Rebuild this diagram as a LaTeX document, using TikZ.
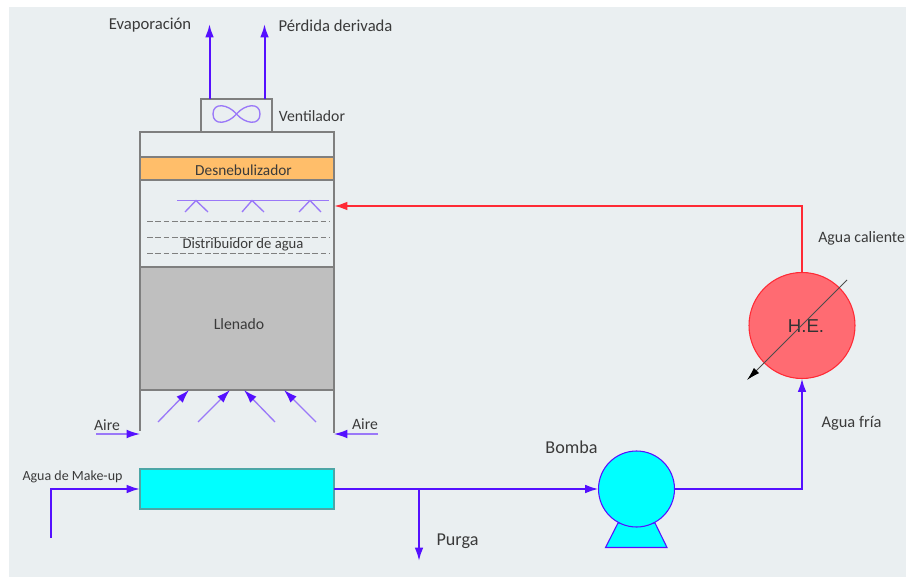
\documentclass[tikz,border=0pt]{standalone}
\usepackage{xcolor}
\usepackage{fontspec}
\setmainfont{Carlito}
\newfontfamily\helabelfont{Liberation Sans}
\usetikzlibrary{arrows.meta}
\definecolor{panelgray}{HTML}{EAEFF1}
\definecolor{flowblue}{HTML}{5510FF}
\definecolor{sprayblue}{HTML}{9A78F8}
\definecolor{hotred}{HTML}{FF2A35}
\definecolor{hefill}{HTML}{FF6B72}
\definecolor{wallgray}{HTML}{7F7F7F}
\definecolor{labelgray}{HTML}{3A3A3A}
\definecolor{watercyan}{HTML}{00FFFF}
\definecolor{demisterorange}{HTML}{FFBE6A}
\definecolor{fillgray}{HTML}{BFBFBF}
\tikzset{
  lbl/.style={text=labelgray, font=\fontsize{11.8}{14}\selectfont, inner sep=0pt},
  towerbox/.style={draw=wallgray, line width=0.9pt, anchor=north west, inner sep=0pt, outer sep=0pt},
  flow/.style={draw=flowblue, line width=1.5pt, -{Latex[length=10pt,width=6.5pt]}},
  airflow/.style={draw=sprayblue, line width=1pt, -{Latex[length=10pt,width=6.5pt,color=flowblue]}},
  dashline/.style={draw=wallgray, line width=1.1pt, dash pattern=on 4.4pt off 1.8pt},
}
\begin{document}
\begin{tikzpicture}[x=0.75pt, y=-0.75pt]

\useasboundingbox (0,0) rectangle (906,577);

% Background panel
\fill[white] (0,0) rectangle (906,577);
\fill[panelgray] (9,7) rectangle (906,577);

% Tower sections
\node[towerbox, minimum width=145.5pt, minimum height=18.75pt] (towertop) at (140,132) {};
\node[towerbox, fill=demisterorange, minimum width=145.5pt, minimum height=17.25pt] (demister) at (140,157) {};
\node[towerbox, minimum width=145.5pt, minimum height=65.25pt] (distributor) at (140,180) {};
\node[towerbox, fill=fillgray, minimum width=145.5pt, minimum height=92.25pt] (fill) at (140,267) {};
\node[towerbox, minimum width=53.25pt, minimum height=24.75pt] (fan) at (201,99) {};

% Tower walls below the fill
\coordinate (wallleft) at (140,431);
\coordinate (wallright) at (334,433);
\draw[wallgray, line width=0.9pt] (fill.south west) -- (wallleft);
\draw[wallgray, line width=0.9pt] (fill.south east) -- (wallright);

% Fan symbol
\draw[sprayblue, line width=1pt] (236.5,114) .. controls (228,104) and (213,102) .. (213,114)
  .. controls (213,126) and (228,124) .. (236.5,114)
  .. controls (245,104) and (260,102) .. (260,114)
  .. controls (260,126) and (245,124) .. (236.5,114);

% Spray bar and nozzles
\draw[sprayblue, line width=1.1pt] (177,200.5) -- (329,200.5);
\draw[sprayblue, line width=1pt] (185,212) -- (196,200.5) -- (208,212);
\draw[sprayblue, line width=1pt] (242,212) -- (252,200.5) -- (264,212);
\draw[sprayblue, line width=1pt] (299,212) -- (310,200.5) -- (321,212);

% Dashed water levels
\draw[dashline] (147,221.5) -- (329,221.5);
\draw[dashline] (147,237.5) -- (329,237.5);
\draw[dashline] (147,253.5) -- (329,253.5);

% Exhaust arrows
\coordinate (evapend) at (209.5,24);
\coordinate (lossend) at (264.5,24);
\draw[flow] (fan.north -| evapend) -- (evapend);
\draw[flow] (fan.north -| lossend) -- (lossend);

% Air inlet arrows
\coordinate (airastart) at (158,422);
\coordinate (airaend) at (189,390);
\coordinate (airbstart) at (198,422);
\coordinate (airbend) at (230,390);
\coordinate (aircstart) at (275,422);
\coordinate (aircend) at (244,390);
\coordinate (airdstart) at (316,422);
\coordinate (airdend) at (284,390);
\draw[airflow] (airastart) -- (airaend);
\draw[airflow] (airbstart) -- (airbend);
\draw[airflow] (aircstart) -- (aircend);
\draw[airflow] (airdstart) -- (airdend);

% Side air arrows
\coordinate (sideleft) at (96,434);
\coordinate (sideleftend) at (140,434);
\coordinate (sideright) at (378,434);
\coordinate (siderightend) at (334,434);
\draw[airflow] (sideleft) -- (sideleftend);
\draw[airflow] (sideright) -- (siderightend);

% Basin, pump and heat exchanger
\node[towerbox, draw=teal!70, fill=watercyan, minimum width=145.5pt, minimum height=30pt] (basin) at (140,469) {};
\draw[flowblue, fill=watercyan, line width=0.8pt] (618,523) -- (605.5,547.5) -- (667,547.5) -- (655,523) -- cycle;
\node[circle, draw=flowblue, fill=watercyan, line width=0.8pt, minimum size=57pt, inner sep=0pt, outer sep=0pt] (pump) at (636.5,489) {};
\node[circle, draw=hotred, fill=hefill, line width=0.8pt, minimum size=79.5pt, inner sep=0pt, outer sep=0pt] (he) at (802,325.5) {};
\node[text=black!80, font=\fontsize{14}{16}\helabelfont, inner sep=0pt] (helabel) at (806,326) {H.E.};

% Heat exchanger diagonal
\coordinate (hediagtop) at (847,280);
\coordinate (hediagend) at (747,380);
\draw[black!70, line width=0.6pt, -{Latex[length=10pt,width=5.5pt,color=black]}] (hediagtop) -- (hediagend);

% Water circuit
\coordinate (makeupstart) at (51,538);
\coordinate (purgejoin) at (419,489);
\coordinate (purgeend) at (419,561);
\coordinate (hotin) at (334,206);
\draw[flow] (makeupstart) |- (basin.west);
\draw[flow] (basin.east) -- (pump.west);
\draw[flow] (purgejoin) -- (purgeend);
\draw[flow] (pump.east) -| (he.south);
\draw[draw=hotred, line width=1.5pt, -{Latex[length=10pt,width=6.5pt]}] (he.north) |- (hotin);

% Labels
\node[lbl, font=\fontsize{12.5}{15}\selectfont] (evaplabel) at (150,25) {Evaporación};
\node[lbl, font=\fontsize{12.5}{15}\selectfont] (losslabel) at (335.5,25.5) {Pérdida derivada};
\node[lbl] (fanlabel) at (312,116) {Ventilador};
\node[lbl, font=\fontsize{11.5}{14}\selectfont] (demisterlabel) at (243.5,170) {Desnebulizador};
\node[lbl, font=\fontsize{11}{13}\selectfont] (distlabel) at (243,245) {Distribuidor de agua};
\node[lbl] (filllabel) at (239,324) {Llenado};
\node[lbl] (airleft) at (107,425) {Aire};
\node[lbl] (airright) at (365,424.5) {Aire};
\node[lbl, font=\fontsize{10.5}{12}\selectfont] (makeuplabel) at (72.5,476.5) {Agua de Make-up};
\node[lbl, font=\fontsize{13.6}{16}\selectfont] (pumplabel) at (571.5,447) {Bomba};
\node[lbl, font=\fontsize{13.6}{16}\selectfont] (purgelabel) at (457.5,541) {Purga};
\node[lbl, anchor=west, font=\fontsize{11.9}{14}\selectfont] (hotlabel) at (818,238) {Agua caliente};
\node[lbl, font=\fontsize{12.3}{14}\selectfont] (coldlabel) at (851.5,423) {Agua fría};

\end{tikzpicture}
\end{document}
